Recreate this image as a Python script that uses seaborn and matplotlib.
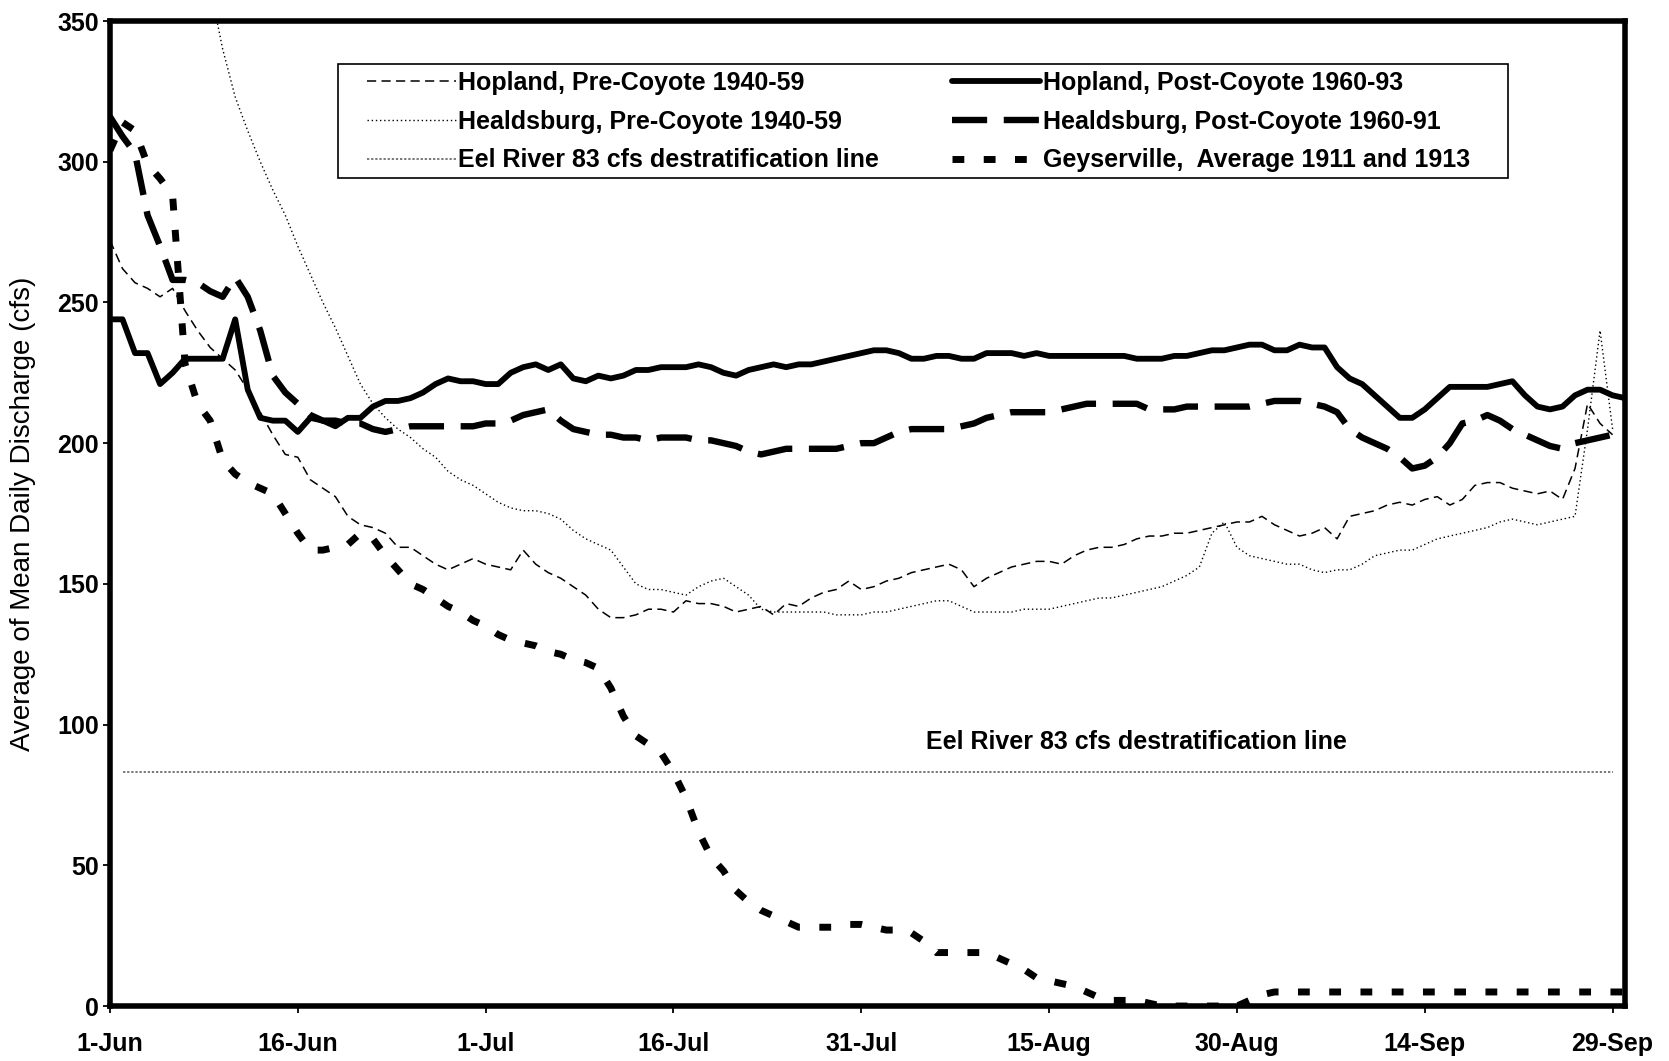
import matplotlib
matplotlib.use("Agg")
import matplotlib.pyplot as plt
from matplotlib.patches import Rectangle
import pandas as pd
import seaborn as sns

sns.set_theme(style="white")
plt.rcParams["font.family"] = ["Liberation Sans", "DejaVu Sans"]

# x axis: days counted from 1 June
tick_days = [0, 15, 30, 45, 60, 75, 90, 105, 120]
tick_labels = ["1-Jun", "16-Jun", "1-Jul", "16-Jul", "31-Jul",
               "15-Aug", "30-Aug", "14-Sep", "29-Sep"]
y_ticks = [0, 50, 100, 150, 200, 250, 300, 350]

# Hopland, Post-Coyote 1960-93 (days 0..121)
hopland_post = [
    244, 244, 232, 232, 221, 225, 230, 230, 230, 230,
    244, 219, 209, 208, 208, 204, 209, 208, 206, 209,
    209, 213, 215, 215, 216, 218, 221, 223, 222, 222,
    221, 221, 225, 227, 228, 226, 228, 223, 222, 224,
    223, 224, 226, 226, 227, 227, 227, 228, 227, 225,
    224, 226, 227, 228, 227, 228, 228, 229, 230, 231,
    232, 233, 233, 232, 230, 230, 231, 231, 230, 230,
    232, 232, 232, 231, 232, 231, 231, 231, 231, 231,
    231, 231, 230, 230, 230, 231, 231, 232, 233, 233,
    234, 235, 235, 233, 233, 235, 234, 234, 227, 223,
    221, 217, 213, 209, 209, 212, 216, 220, 220, 220,
    220, 221, 222, 217, 213, 212, 213, 217, 219, 219,
    217, 216]

# Healdsburg, Post-Coyote 1960-91 (days 0..121)
healdsburg_post = [
    316, 309, 303, 281, 270, 258, 258, 257, 254, 252,
    259, 252, 240, 224, 218, 214, 210, 208, 208, 207,
    207, 205, 204, 205, 206, 206, 206, 206, 206, 206,
    207, 207, 208, 210, 211, 212, 208, 205, 204, 203,
    203, 202, 202, 201, 202, 202, 202, 201, 201, 200,
    199, 197, 196, 197, 198, 198, 198, 198, 198, 199,
    200, 200, 202, 204, 205, 205, 205, 205, 206, 207,
    209, 210, 211, 211, 211, 211, 212, 213, 214, 214,
    214, 214, 214, 212, 212, 212, 213, 213, 213, 213,
    213, 213, 214, 215, 215, 215, 214, 213, 211, 205,
    202, 200, 198, 195, 191, 192, 195, 200, 207, 208,
    210, 208, 205, 203, 201, 199, 198, 200, 201, 202,
    203, 202]

# Geyserville, average of 1911 and 1913 (days 0..121)
geyserville = [
    304, 314, 311, 299, 294, 288, 228, 214, 208, 194,
    189, 186, 184, 182, 175, 168, 162, 162, 163, 164,
    168, 166, 160, 155, 150, 148, 145, 142, 140, 137,
    135, 132, 130, 129, 128, 126, 125, 123, 122, 120,
    113, 103, 96, 93, 90, 83, 74, 62, 53, 48,
    41, 37, 34, 32, 30, 28, 28, 28, 28, 29,
    29, 28, 27, 27, 26, 23, 19, 19, 19, 19,
    19, 17, 15, 13, 10, 9, 8, 7, 5, 3,
    2, 2, 2, 1, 0, 0, 0, 0, 0, 0,
    0, 2, 4, 5, 5, 5, 5, 5, 5, 5,
    5, 5, 5, 5, 5, 5, 5, 5, 5, 5,
    5, 5, 5, 5, 5, 5, 5, 5, 5, 5,
    5, 5]

# Hopland, Pre-Coyote 1940-59 (days 0..120)
hopland_pre = [
    272, 262, 257, 255, 252, 255, 247, 240, 234, 230,
    226, 219, 211, 203, 196, 195, 187, 184, 181, 174,
    171, 170, 168, 163, 163, 160, 157, 155, 157, 159,
    157, 156, 155, 162, 157, 154, 152, 149, 146, 141,
    138, 138, 139, 141, 141, 140, 144, 143, 143, 142,
    140, 141, 142, 139, 143, 142, 145, 147, 148, 151,
    148, 149, 151, 152, 154, 155, 156, 157, 155, 149,
    152, 154, 156, 157, 158, 158, 157, 160, 162, 163,
    163, 164, 166, 167, 167, 168, 168, 169, 170, 171,
    172, 172, 174, 171, 169, 167, 168, 170, 166, 174,
    175, 176, 178, 179, 178, 180, 181, 178, 180, 185,
    186, 186, 184, 183, 182, 183, 180, 191, 214, 207,
    203]

# Healdsburg, Pre-Coyote 1940-59 (days 8..120; earlier values run above the axis)
healdsburg_pre_start = 8
healdsburg_pre = [
    362, 340, 323, 311, 300, 290, 281, 270, 260, 250,
    241, 231, 221, 214, 209, 205, 202, 198, 195, 190,
    187, 185, 182, 179, 177, 176, 176, 175, 173, 169,
    166, 164, 162, 156, 150, 148, 148, 147, 146, 149,
    151, 152, 149, 146, 141, 140, 140, 140, 140, 140,
    139, 139, 139, 140, 140, 141, 142, 143, 144, 144,
    142, 140, 140, 140, 140, 141, 141, 141, 142, 143,
    144, 145, 145, 146, 147, 148, 149, 151, 153, 156,
    168, 172, 163, 160, 159, 158, 157, 157, 155, 154,
    155, 155, 157, 160, 161, 162, 162, 164, 166, 167,
    168, 169, 170, 172, 173, 172, 171, 172, 173, 174,
    205, 240, 205]

# Eel River 83 cfs destratification threshold
eel_days = [1, 120]
eel_cfs = [83, 83]

labels = {
    "hopland_pre": "Hopland, Pre-Coyote 1940-59",
    "healdsburg_pre": "Healdsburg, Pre-Coyote 1940-59",
    "eel": "Eel River 83 cfs destratification line",
    "hopland_post": "Hopland, Post-Coyote 1960-93",
    "healdsburg_post": "Healdsburg, Post-Coyote 1960-91",
    "geyserville": "Geyserville,  Average 1911 and 1913",
}


def frame(values, start=0):
    return pd.DataFrame({"day": list(range(start, start + len(values))),
                         "cfs": values})


fig = plt.figure(figsize=(16.69, 10.61), dpi=100)
ax = fig.add_axes([0.0659, 0.0518, 0.9078, 0.9284])

handles = {}


def draw(key, df, **style):
    sns.lineplot(data=df, x="day", y="cfs", ax=ax, estimator=None, sort=False,
                 color=style.pop("color", "black"), legend=False, **style)
    handles[key] = ax.lines[-1]


draw("eel", pd.DataFrame({"day": eel_days, "cfs": eel_cfs}),
     color="#555555", linewidth=1.1, linestyle=(0, (1.5, 1.2)))
draw("healdsburg_pre", frame(healdsburg_pre, healdsburg_pre_start),
     linewidth=1.0, linestyle=(0, (1, 2)))
draw("hopland_pre", frame(hopland_pre),
     linewidth=1.1, linestyle=(0, (6, 3.5)))
draw("geyserville", frame(geyserville),
     linewidth=5.0, linestyle=(0, (1.7, 2.8)), dash_capstyle="butt")
draw("healdsburg_post", frame(healdsburg_post),
     linewidth=4.6, linestyle=(0, (5.5, 2.6)), dash_capstyle="butt")
draw("hopland_post", frame(hopland_post),
     linewidth=4.2, linestyle="-", solid_joinstyle="round")

ax.set_xlim(0, 121)
ax.set_ylim(0, 350)
ax.set_xticks(tick_days)
ax.set_xticklabels(tick_labels)
ax.set_yticks(y_ticks)
ax.set_yticklabels([str(v) for v in y_ticks])
ax.set_xlabel("")
ax.set_ylabel("Average of Mean Daily Discharge (cfs)", fontsize=20,
              color="black")
ax.yaxis.set_label_coords(-0.049, 0.5)

for lab in ax.get_xticklabels() + ax.get_yticklabels():
    lab.set_fontweight("bold")
    lab.set_color("black")
ax.tick_params(axis="both", which="major", direction="out", length=5,
               width=1.3, color="black", labelsize=18, bottom=True, left=True)
ax.tick_params(axis="x", pad=14)
ax.tick_params(axis="y", pad=3)

for s in ax.spines.values():
    s.set_visible(True)
    s.set_linewidth(4.0)
    s.set_color("black")

ax.text(82, 93.8, "Eel River 83 cfs destratification line", ha="center",
        va="center", fontsize=18, fontweight="bold", color="black")

# legend frame, drawn inside the axes beneath the legend entries
ax.add_patch(Rectangle((0.2028, 0.8322), 0.7007, 0.1074,
                       transform=fig.transFigure, fill=True,
                       facecolor="white", edgecolor="black",
                       linewidth=1.2, zorder=5, clip_on=False))

order = ["hopland_pre", "healdsburg_pre", "eel",
         "hopland_post", "healdsburg_post", "geyserville"]
leg = ax.legend([handles[k] for k in order], [labels[k] for k in order],
                ncol=2, loc="upper left",
                bbox_to_anchor=(0.2199, 0.9333), bbox_transform=fig.transFigure,
                frameon=False, prop={"weight": "bold", "size": 18},
                handlelength=3.54, handletextpad=0.1, columnspacing=2.92,
                labelspacing=0.59, borderpad=0, borderaxespad=0)
leg.set_zorder(6)
for t in leg.get_texts():
    t.set_color("black")

fig.savefig("out.png", dpi=100, facecolor="white")
